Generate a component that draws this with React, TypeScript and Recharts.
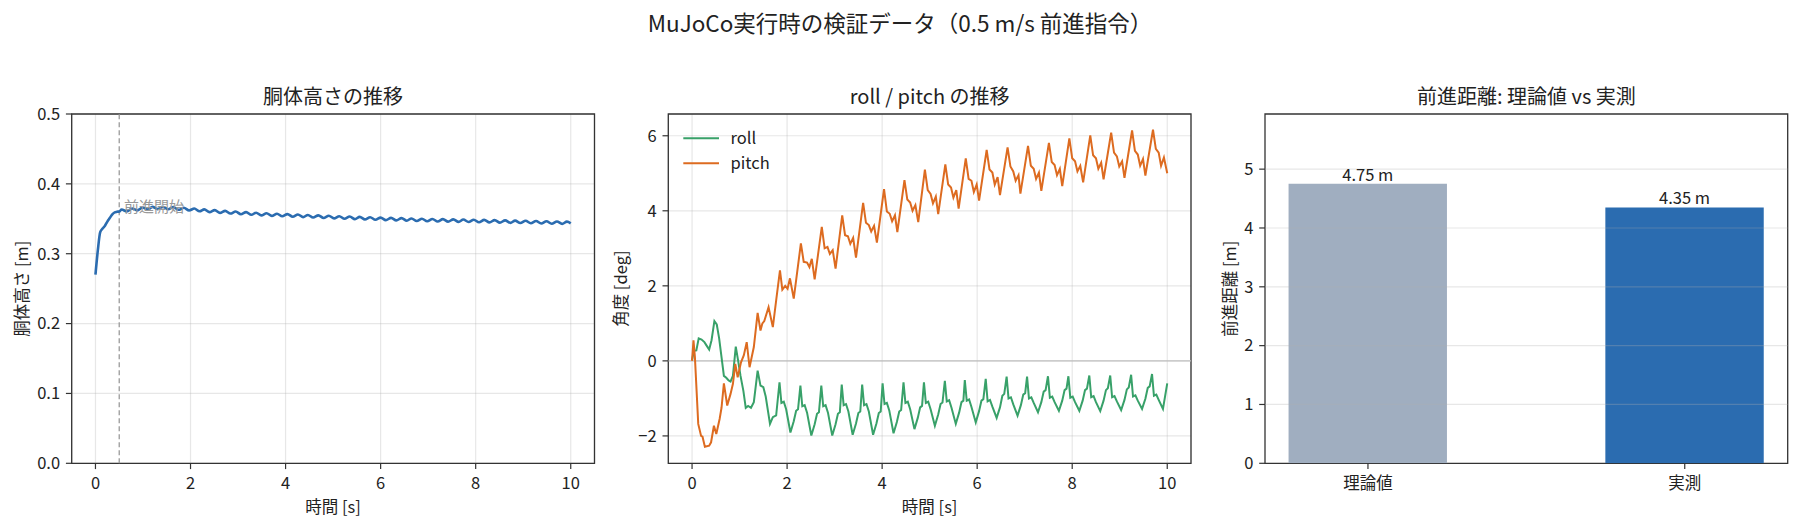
import React from 'react';
import {
  LineChart,
  Line,
  BarChart,
  Bar,
  Cell,
  LabelList,
  XAxis,
  YAxis,
  CartesianGrid,
  ReferenceLine,
  ReferenceArea,
  ReferenceDot,
} from 'recharts';

const FONT = '"Noto Sans CJK JP", "Noto Sans", sans-serif';

// ---------- texts ----------
const suptitle = 'MuJoCo実行時の検証データ（0.5 m/s 前進指令）';
const panelTitles = ['胴体高さの推移', 'roll / pitch の推移', '前進距離: 理論値 vs 実測'];
const timeLabel = '時間 [s]';
const heightLabel = '胴体高さ [m]';
const angleLabel = '角度 [deg]';
const distanceLabel = '前進距離 [m]';
const startLabel = '前進開始';
const legendNames = ['roll', 'pitch'];

// ---------- ticks ----------
const timeTicks = [0, 2, 4, 6, 8, 10];
const heightTicks = [0, 0.1, 0.2, 0.3, 0.4, 0.5];
const angleTicks = [-2, 0, 2, 4, 6];
const distanceTicks = [0, 1, 2, 3, 4, 5];

// ---------- data ----------
const forwardStartTime = 0.5;
const annotationPoint = [0.6, 0.36];

// torso height [t (s), h (m)]
const heightSeries: [number, number][] = [
  [0, 0.27], [0.05, 0.305], [0.1, 0.331], [0.15, 0.336], [0.2, 0.34], [0.25, 0.346],
  [0.3, 0.351], [0.35, 0.356], [0.4, 0.359], [0.45, 0.36], [0.5, 0.3605],
  [0.55, 0.3632], [0.66, 0.3605], [0.77, 0.3647], [0.88, 0.3621], [0.99, 0.3662],
  [1.1, 0.3633], [1.2, 0.3671], [1.31, 0.3639], [1.42, 0.3673], [1.53, 0.3637],
  [1.64, 0.3667], [1.75, 0.3629], [1.86, 0.3658], [1.97, 0.3619], [2.08, 0.3647],
  [2.19, 0.3607], [2.29, 0.3635], [2.4, 0.3595], [2.51, 0.3624], [2.62, 0.3585],
  [2.73, 0.3614], [2.84, 0.3575], [2.95, 0.3604], [3.06, 0.3565], [3.17, 0.3595],
  [3.28, 0.3557], [3.38, 0.3587], [3.49, 0.3549], [3.6, 0.3579], [3.71, 0.3542],
  [3.82, 0.3573], [3.93, 0.3536], [4.04, 0.3567], [4.15, 0.353], [4.26, 0.3561],
  [4.37, 0.3524], [4.47, 0.3555], [4.58, 0.3518], [4.69, 0.3549], [4.8, 0.3512],
  [4.91, 0.3543], [5.02, 0.3506], [5.13, 0.3537], [5.24, 0.3501], [5.35, 0.3532],
  [5.46, 0.3495], [5.56, 0.3527], [5.67, 0.3491], [5.78, 0.3522], [5.89, 0.3486],
  [6.0, 0.3517], [6.11, 0.3481], [6.22, 0.3513], [6.33, 0.3477], [6.44, 0.3509],
  [6.55, 0.3473], [6.65, 0.3505], [6.76, 0.3469], [6.87, 0.3501], [6.98, 0.3465],
  [7.09, 0.3498], [7.2, 0.3462], [7.31, 0.3495], [7.42, 0.3459], [7.53, 0.3492],
  [7.64, 0.3456], [7.74, 0.3489], [7.85, 0.3454], [7.96, 0.3487], [8.07, 0.3451],
  [8.18, 0.3484], [8.29, 0.3448], [8.4, 0.3481], [8.51, 0.3445], [8.62, 0.3477],
  [8.73, 0.3442], [8.83, 0.3474], [8.94, 0.3439], [9.05, 0.3471], [9.16, 0.3436],
  [9.27, 0.3468], [9.38, 0.3433], [9.49, 0.3465], [9.6, 0.343], [9.71, 0.3462],
  [9.82, 0.3427], [9.92, 0.3459], [10.0, 0.3435],
];

// roll [t (s), deg]
const rollSeries: [number, number][] = [
  [0, 0.02], [0.04, 0.27], [0.09, 0.28], [0.14, 0.6], [0.2, 0.57], [0.26, 0.5],
  [0.32, 0.38], [0.36, 0.3], [0.41, 0.55], [0.47, 1.06], [0.52, 0.97], [0.57, 0.6],
  [0.62, 0.1], [0.67, -0.4], [0.72, -0.45], [0.77, -0.52], [0.81, -0.55], [0.86, -0.4],
  [0.92, 0.38], [0.97, 0.0], [1.02, -0.4], [1.08, -0.8], [1.13, -1.25], [1.18, -1.2],
  [1.24, -1.25], [1.3, -1.1], [1.38, -0.26], [1.44, -0.66], [1.5, -0.7], [1.55, -0.95],
  [1.64, -1.68], [1.7, -1.5], [1.77, -1.45],
  [1.84, -0.57], [1.88, -1.12], [1.93, -1.09], [1.98, -1.29], [2.07, -1.91], [2.14, -1.61], [2.19, -1.33], [2.23, -1.29],
  [2.28, -0.66], [2.32, -1.21], [2.37, -1.18], [2.42, -1.38], [2.51, -1.99], [2.58, -1.69], [2.63, -1.41], [2.67, -1.37],
  [2.72, -0.66], [2.76, -1.21], [2.81, -1.18], [2.86, -1.38], [2.95, -1.99], [3.02, -1.69], [3.07, -1.41], [3.11, -1.37],
  [3.15, -0.63], [3.19, -1.18], [3.24, -1.15], [3.29, -1.35], [3.38, -1.97], [3.45, -1.67], [3.5, -1.39], [3.54, -1.35],
  [3.58, -0.63], [3.62, -1.18], [3.67, -1.15], [3.72, -1.35], [3.81, -1.97], [3.88, -1.67], [3.93, -1.39], [3.97, -1.35],
  [4.01, -0.6], [4.05, -1.15], [4.1, -1.12], [4.15, -1.32], [4.24, -1.93], [4.31, -1.63], [4.36, -1.35], [4.4, -1.31],
  [4.45, -0.57], [4.49, -1.12], [4.54, -1.09], [4.59, -1.29], [4.68, -1.82], [4.75, -1.52], [4.8, -1.24], [4.84, -1.2],
  [4.88, -0.57], [4.92, -1.12], [4.97, -1.09], [5.02, -1.29], [5.11, -1.73], [5.18, -1.43], [5.23, -1.15], [5.27, -1.11],
  [5.32, -0.53], [5.36, -1.08], [5.41, -1.05], [5.46, -1.25], [5.55, -1.68], [5.62, -1.38], [5.67, -1.1], [5.71, -1.06],
  [5.74, -0.51], [5.78, -1.06], [5.83, -1.03], [5.88, -1.23], [5.97, -1.64], [6.04, -1.34], [6.09, -1.06], [6.13, -1.02],
  [6.18, -0.48], [6.22, -1.08], [6.27, -1.04], [6.32, -1.22], [6.41, -1.52], [6.48, -1.24], [6.53, -0.93], [6.57, -0.88],
  [6.62, -0.42], [6.66, -1.0], [6.71, -0.97], [6.76, -1.16], [6.85, -1.46], [6.92, -1.18], [6.97, -0.9], [7.01, -0.86],
  [7.05, -0.42], [7.09, -1.0], [7.14, -0.97], [7.19, -1.12], [7.28, -1.37], [7.35, -1.1], [7.4, -0.82], [7.44, -0.78],
  [7.49, -0.41], [7.53, -0.98], [7.58, -0.95], [7.63, -1.1], [7.72, -1.33], [7.79, -1.06], [7.84, -0.78], [7.88, -0.74],
  [7.92, -0.41], [7.96, -0.98], [8.01, -0.95], [8.06, -1.1], [8.15, -1.33], [8.22, -1.06], [8.27, -0.78], [8.31, -0.74],
  [8.36, -0.39], [8.4, -0.97], [8.45, -0.94], [8.5, -1.1], [8.59, -1.34], [8.66, -1.06], [8.71, -0.78], [8.75, -0.73],
  [8.8, -0.39], [8.84, -0.97], [8.89, -0.94], [8.94, -1.08], [9.03, -1.31], [9.1, -1.04], [9.15, -0.76], [9.19, -0.71],
  [9.24, -0.37], [9.28, -0.95], [9.33, -0.92], [9.38, -1.06], [9.47, -1.28], [9.54, -1.01], [9.59, -0.72], [9.63, -0.68],
  [9.68, -0.35], [9.72, -0.93], [9.77, -0.9], [9.82, -1.04], [9.91, -1.28], [10.0, -0.6],
];

// pitch [t (s), deg]
const pitchSeries: [number, number][] = [
  [0, 0], [0.03, 0.55], [0.06, 0.1], [0.13, -1.68], [0.19, -2.0], [0.22, -2.02],
  [0.27, -2.29], [0.36, -2.26], [0.4, -2.17], [0.46, -1.73], [0.51, -1.95], [0.58, -1.55],
  [0.62, -1.25], [0.67, -0.6], [0.74, -1.19], [0.81, -0.88], [0.86, -0.61], [0.91, -0.08],
  [0.96, -0.44], [1.03, -0.04], [1.09, 0.15], [1.15, 0.5], [1.21, -0.17], [1.3, 0.37],
  [1.38, 1.28], [1.44, 0.81], [1.48, 1.0], [1.52, 1.06], [1.61, 1.43], [1.7, 0.9], [1.77, 1.61],
  [1.85, 2.41], [1.9, 1.9], [1.96, 2.0], [2.01, 1.92], [2.06, 2.2], [2.14, 1.66],
  [2.29, 3.13], [2.35, 2.64], [2.42, 2.62], [2.47, 2.5], [2.52, 2.72], [2.58, 2.17],
  [2.73, 3.57], [2.79, 3.0], [2.85, 3.04], [2.9, 2.85], [2.96, 2.95], [3.02, 2.46],
  [3.16, 3.88], [3.22, 3.35], [3.28, 3.32], [3.33, 3.12], [3.39, 3.28], [3.45, 2.75],
  [3.6, 4.21], [3.66, 3.68], [3.72, 3.62], [3.77, 3.45], [3.83, 3.6], [3.89, 3.15],
  [4.04, 4.58], [4.1, 3.98], [4.16, 3.92], [4.21, 3.72], [4.27, 3.88], [4.32, 3.43],
  [4.47, 4.82], [4.53, 4.3], [4.59, 4.22], [4.64, 4.0], [4.7, 4.15], [4.76, 3.7],
  [4.9, 5.1], [4.96, 4.55], [5.02, 4.45], [5.07, 4.2], [5.13, 4.38], [5.18, 3.91],
  [5.33, 5.24], [5.39, 4.7], [5.45, 4.62], [5.5, 4.35], [5.56, 4.55], [5.61, 4.06],
  [5.76, 5.4], [5.82, 4.85], [5.88, 4.8], [5.93, 4.5], [5.99, 4.7], [6.04, 4.27],
  [6.2, 5.62], [6.26, 5.1], [6.32, 5.02], [6.37, 4.7], [6.43, 4.9], [6.48, 4.42],
  [6.64, 5.69], [6.7, 5.18], [6.76, 5.05], [6.81, 4.8], [6.87, 4.95], [6.91, 4.46],
  [7.07, 5.73], [7.13, 5.2], [7.19, 5.12], [7.24, 4.85], [7.3, 5.02], [7.35, 4.53],
  [7.51, 5.81], [7.57, 5.3], [7.63, 5.22], [7.68, 4.95], [7.74, 5.12], [7.79, 4.66],
  [7.94, 5.93], [8.0, 5.4], [8.06, 5.32], [8.11, 5.05], [8.17, 5.2], [8.23, 4.76],
  [8.38, 6.01], [8.44, 5.48], [8.5, 5.4], [8.55, 5.12], [8.61, 5.28], [8.66, 4.84],
  [8.82, 6.08], [8.88, 5.55], [8.94, 5.45], [8.99, 5.18], [9.05, 5.32], [9.1, 4.88],
  [9.26, 6.14], [9.32, 5.6], [9.38, 5.5], [9.43, 5.2], [9.49, 5.38], [9.54, 4.94],
  [9.7, 6.16], [9.76, 5.65], [9.82, 5.55], [9.87, 5.2], [9.93, 5.42], [10.0, 5.0],
];

// forward distance
const barCategories = ['理論値', '実測'];
const barValues = [4.75, 4.35];

// ---------- styles ----------
const COLOR_HEIGHT = '#2b6cb0';
const COLOR_ROLL = '#38a169';
const COLOR_PITCH = '#dd6b20';
const BAR_COLORS = ['#a0aec0', '#2b6cb0'];
const TEXT = '#222';
const SPINE = '#333';
const GRID = '#b0b0b0';

const H = 528;
const PLOT_TOP = 114;
const PLOT_BOTTOM = 463.3;
const X_AXIS_H = H - PLOT_BOTTOM;
const FS = 16.5;

const tickStyle = { fill: TEXT, fontSize: FS, fontFamily: FONT };
const tickLineStyle = { stroke: SPINE, strokeWidth: 1.2 };

const toPoints = (s: [number, number][]) => s.map(([t, v]) => ({ t, v }));
const heightData = toPoints(heightSeries);
const rollData = toPoints(rollSeries);
const pitchData = toPoints(pitchSeries);
const barData = barValues.map((v, i) => ({ x: i, v, name: barCategories[i] }));

const minusFmt = (v: number) => (v < 0 ? `\u2212${Math.abs(v)}` : `${v}`);

const xLabel = (text: string) => ({
  value: text,
  position: 'insideBottom' as const,
  offset: 15,
  fill: TEXT,
  fontSize: FS,
  fontFamily: FONT,
});

const yLabel = (text: string, offset: number) => ({
  value: text,
  angle: -90,
  position: 'insideLeft' as const,
  offset,
  fill: TEXT,
  fontSize: FS,
  fontFamily: FONT,
  style: { textAnchor: 'middle' as const },
});

const AnnotationText = (props: any) => {
  const vb = props.viewBox || {};
  return (
    <text x={vb.x} y={vb.y} fill="#999999" fontSize={15} fontFamily={FONT}>
      {startLabel}
    </text>
  );
};

// panel geometry (chart boxes)
const P1 = { left: 0, width: 600, yw: 71.7, right: 5.5 };
const P2 = { left: 600, width: 600, yw: 68.3, right: 9 };
const P3 = { left: 1200, width: 600, yw: 65, right: 12.3 };

const timeDomain: [number, number] = [-0.5, 10.5];
const heightDomain: [number, number] = [0, 0.5];
const angleDomain: [number, number] = [-2.73, 6.58];
const distanceDomain: [number, number] = [0, 5.9375];
const barXDomain: [number, number] = [-0.325, 1.325];
const barWidthUnits = 0.5;

const plotCenter = (p: { left: number; width: number; yw: number; right: number }) =>
  p.left + p.yw + (p.width - p.yw - p.right) / 2;

function HeightChart() {
  return (
    <LineChart width={P1.width} height={H} margin={{ top: PLOT_TOP, right: P1.right, bottom: 0, left: 0 }}>
      <CartesianGrid stroke={GRID} strokeOpacity={0.3} strokeWidth={1.2} />
      <XAxis
        type="number"
        dataKey="t"
        domain={timeDomain}
        ticks={timeTicks}
        interval={0}
        allowDataOverflow
        height={X_AXIS_H}
        axisLine={false}
        tickSize={5.8}
        tickMargin={8}
        tickLine={tickLineStyle}
        tick={tickStyle}
        label={xLabel(timeLabel)}
      />
      <YAxis
        type="number"
        domain={heightDomain}
        ticks={heightTicks}
        interval={0}
        allowDataOverflow
        width={P1.yw}
        axisLine={false}
        tickSize={5.8}
        tickMargin={5.8}
        tickLine={tickLineStyle}
        tick={tickStyle}
        tickFormatter={(v: number) => v.toFixed(1)}
        label={yLabel(heightLabel, 22)}
      />
      <ReferenceLine x={forwardStartTime} stroke="#9a9a9a" strokeWidth={1.3} strokeDasharray="5 3" />
      <Line
        data={heightData}
        dataKey="v"
        type="monotone"
        stroke={COLOR_HEIGHT}
        strokeWidth={2.6}
        dot={false}
        isAnimationActive={false}
      />
      <ReferenceDot
        x={annotationPoint[0]}
        y={annotationPoint[1]}
        r={0}
        fill="none"
        stroke="none"
        label={AnnotationText}
      />
      <ReferenceArea
        x1={timeDomain[0]}
        x2={timeDomain[1]}
        y1={heightDomain[0]}
        y2={heightDomain[1]}
        fill="none"
        fillOpacity={0}
        stroke={SPINE}
        strokeWidth={1.3}
      />
    </LineChart>
  );
}

function AngleChart() {
  return (
    <LineChart width={P2.width} height={H} margin={{ top: PLOT_TOP, right: P2.right, bottom: 0, left: 0 }}>
      <CartesianGrid stroke={GRID} strokeOpacity={0.3} strokeWidth={1.2} />
      <XAxis
        type="number"
        dataKey="t"
        domain={timeDomain}
        ticks={timeTicks}
        interval={0}
        allowDataOverflow
        height={X_AXIS_H}
        axisLine={false}
        tickSize={5.8}
        tickMargin={8}
        tickLine={tickLineStyle}
        tick={tickStyle}
        label={xLabel(timeLabel)}
      />
      <YAxis
        type="number"
        domain={angleDomain}
        ticks={angleTicks}
        interval={0}
        allowDataOverflow
        width={P2.yw}
        axisLine={false}
        tickSize={5.8}
        tickMargin={5.8}
        tickLine={tickLineStyle}
        tick={tickStyle}
        tickFormatter={minusFmt}
        label={yLabel(angleLabel, 21)}
      />
      <ReferenceLine y={0} stroke="#c0c0c0" strokeWidth={1.3} />
      <Line
        data={rollData}
        dataKey="v"
        name={legendNames[0]}
        type="linear"
        stroke={COLOR_ROLL}
        strokeWidth={2}
        dot={false}
        isAnimationActive={false}
      />
      <Line
        data={pitchData}
        dataKey="v"
        name={legendNames[1]}
        type="linear"
        stroke={COLOR_PITCH}
        strokeWidth={2}
        dot={false}
        isAnimationActive={false}
      />
      <ReferenceArea
        x1={timeDomain[0]}
        x2={timeDomain[1]}
        y1={angleDomain[0]}
        y2={angleDomain[1]}
        fill="none"
        fillOpacity={0}
        stroke={SPINE}
        strokeWidth={1.3}
      />
    </LineChart>
  );
}

function DistanceChart() {
  const plotW = P3.width - P3.yw - P3.right;
  const barSize = (plotW * barWidthUnits) / (barXDomain[1] - barXDomain[0]);
  return (
    <BarChart
      width={P3.width}
      height={H}
      data={barData}
      margin={{ top: PLOT_TOP, right: P3.right, bottom: 0, left: 0 }}
    >
      <XAxis
        type="number"
        dataKey="x"
        domain={barXDomain}
        ticks={[0, 1]}
        interval={0}
        allowDataOverflow
        height={X_AXIS_H}
        axisLine={false}
        tickSize={5.8}
        tickMargin={8}
        tickLine={tickLineStyle}
        tick={tickStyle}
        tickFormatter={(i: number) => barCategories[i] ?? ''}
      />
      <YAxis
        type="number"
        domain={distanceDomain}
        ticks={distanceTicks}
        interval={0}
        allowDataOverflow
        width={P3.yw}
        axisLine={false}
        tickSize={5.8}
        tickMargin={5.8}
        tickLine={tickLineStyle}
        tick={tickStyle}
        label={yLabel(distanceLabel, 30)}
      />
      <Bar dataKey="v" barSize={barSize} isAnimationActive={false}>
        {barData.map((d, i) => (
          <Cell key={d.name} fill={BAR_COLORS[i]} />
        ))}
        <LabelList
          dataKey="v"
          position="top"
          offset={3}
          fill={TEXT}
          fontSize={FS}
          fontFamily={FONT}
          formatter={(v: any) => `${Number(v).toFixed(2)} m`}
        />
      </Bar>
      {distanceTicks
        .filter((t) => t > 0)
        .map((t) => (
          <ReferenceLine key={t} y={t} stroke={GRID} strokeOpacity={0.3} strokeWidth={1.2} />
        ))}
      <ReferenceArea
        x1={barXDomain[0]}
        x2={barXDomain[1]}
        y1={distanceDomain[0]}
        y2={distanceDomain[1]}
        fill="none"
        fillOpacity={0}
        stroke={SPINE}
        strokeWidth={1.3}
      />
    </BarChart>
  );
}

export default function App() {
  const legendLeft = P2.left + P2.yw + 15;
  const legendRows = [
    { name: legendNames[0], color: COLOR_ROLL, y: 138.3 },
    { name: legendNames[1], color: COLOR_PITCH, y: 163.3 },
  ];
  return (
    <div
      style={{
        position: 'absolute',
        left: 0,
        top: 0,
        width: 1800,
        height: H,
        background: '#ffffff',
        fontFamily: FONT,
        overflow: 'hidden',
      }}
    >
      <div style={{ position: 'absolute', left: P1.left, top: 0 }}>
        <HeightChart />
      </div>
      <div style={{ position: 'absolute', left: P2.left, top: 0 }}>
        <AngleChart />
      </div>
      <div style={{ position: 'absolute', left: P3.left, top: 0 }}>
        <DistanceChart />
      </div>
      <svg
        width={1800}
        height={H}
        style={{ position: 'absolute', left: 0, top: 0, pointerEvents: 'none' }}
      >
        <text x={900} y={31.5} textAnchor="middle" fontSize={22.5} fill={TEXT} fontFamily={FONT}>
          {suptitle}
        </text>
        {[P1, P2, P3].map((p, i) => (
          <text
            key={panelTitles[i]}
            x={plotCenter(p)}
            y={104}
            textAnchor="middle"
            fontSize={20}
            fill={TEXT}
            fontFamily={FONT}
          >
            {panelTitles[i]}
          </text>
        ))}
        {legendRows.map((r) => (
          <g key={r.name}>
            <line x1={legendLeft} x2={legendLeft + 35.7} y1={r.y} y2={r.y} stroke={r.color} strokeWidth={2} />
            <text x={legendLeft + 47.2} y={r.y + 6} fontSize={FS} fill={TEXT} fontFamily={FONT}>
              {r.name}
            </text>
          </g>
        ))}
      </svg>
    </div>
  );
}
